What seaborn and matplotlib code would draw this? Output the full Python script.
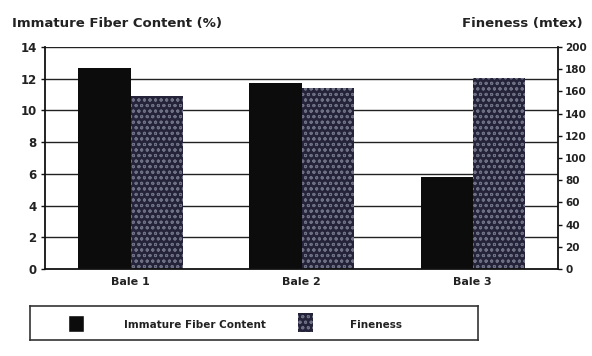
import matplotlib
matplotlib.use("Agg")
import matplotlib.pyplot as plt
from matplotlib.patches import Rectangle
import seaborn as sns
import pandas as pd

bales = ["Bale 1", "Bale 2", "Bale 3"]
immature_fiber = [12.7, 11.7, 5.8]     # %
fineness = [156, 163, 172]             # mtex
left_ticks = [0, 2, 4, 6, 8, 10, 12, 14]
right_ticks = [0, 20, 40, 60, 80, 100, 120, 140, 160, 180, 200]

sns.set_theme(style="white")
plt.rcParams["font.family"] = ["DejaVu Sans"]
plt.rcParams["hatch.linewidth"] = 0.7

IFC_COLOR = "#0c0c0c"
FIN_COLOR = "#24233a"
FIN_DOTS = "#6e7184"

# Fineness is plotted on the left scale (0-14) so both series share one axis;
# the right axis shows the mtex scale (0-200).
scale = 14 / 200
df = pd.DataFrame({
    "Bale": bales * 2,
    "Series": ["Immature Fiber Content"] * 3 + ["Fineness"] * 3,
    "Value": immature_fiber + [f * scale for f in fineness],
})

fig = plt.figure(figsize=(5.92, 3.56), dpi=100)
ax = fig.add_axes([0.076, 0.244, 0.867, 0.624])

palette = {"Immature Fiber Content": IFC_COLOR, "Fineness": FIN_COLOR}
sns.barplot(data=df, x="Bale", y="Value", hue="Series", palette=palette,
            width=0.61, gap=0, ax=ax, legend=False, saturation=1,
            edgecolor="none", linewidth=0)

# dotted texture on the fineness bars
for patch in ax.patches[3:6]:
    patch.set_hatch("ooo")
    patch.set_edgecolor(FIN_DOTS)
    patch.set_linewidth(0)

ax.set_ylim(0, 14)
ax.set_yticks(left_ticks)
ax.set_xlim(-0.5, 2.5)
ax.set_xlabel("")
ax.set_ylabel("")
for y in left_ticks[1:]:
    ax.axhline(y, color="#222222", lw=1.0, zorder=0)
ax.set_axisbelow(True)

for side in ["left", "bottom", "right"]:
    ax.spines[side].set_color("#111111")
    ax.spines[side].set_linewidth(1.3)
ax.spines["top"].set_visible(False)

ax.tick_params(axis="y", length=3, width=1, color="#111111", left=True,
               labelsize=8.5, pad=3)
ax.tick_params(axis="x", length=0, labelsize=8, pad=6)
for lbl in ax.get_yticklabels() + ax.get_xticklabels():
    lbl.set_fontweight("bold")
    lbl.set_color("#222222")

ax2 = ax.twinx()
ax2.set_ylim(0, 200)
ax2.set_yticks(right_ticks)
ax2.tick_params(axis="y", length=3, width=1, color="#111111", right=True,
                labelsize=7.5, pad=2)
for lbl in ax2.get_yticklabels():
    lbl.set_fontweight("bold")
    lbl.set_color("#222222")
for s in ax2.spines.values():
    s.set_visible(False)

fig.text(0.02, 0.935, "Immature Fiber Content (%)", fontsize=9.5,
         fontweight="bold", color="#222222", va="center")
fig.text(0.985, 0.935, "Fineness (mtex)", fontsize=9.5, fontweight="bold",
         color="#222222", va="center", ha="right")

# legend box
lax = fig.add_axes([0.05, 0.045, 0.757, 0.095])
lax.set_xlim(0, 1)
lax.set_ylim(0, 1)
lax.set_xticks([])
lax.set_yticks([])
for s in lax.spines.values():
    s.set_color("#333333")
    s.set_linewidth(1.2)
lax.add_patch(Rectangle((0.085, 0.25), 0.036, 0.5, facecolor=IFC_COLOR))
lax.add_patch(Rectangle((0.6, 0.25), 0.033, 0.55, facecolor=FIN_COLOR,
                        hatch="ooo", edgecolor=FIN_DOTS, linewidth=0))
lax.text(0.21, 0.45, "Immature Fiber Content", fontsize=7.5, fontweight="bold",
         color="#222222", va="center")
lax.text(0.715, 0.45, "Fineness", fontsize=7.5, fontweight="bold",
         color="#222222", va="center")

fig.savefig("out.png", dpi=100)
